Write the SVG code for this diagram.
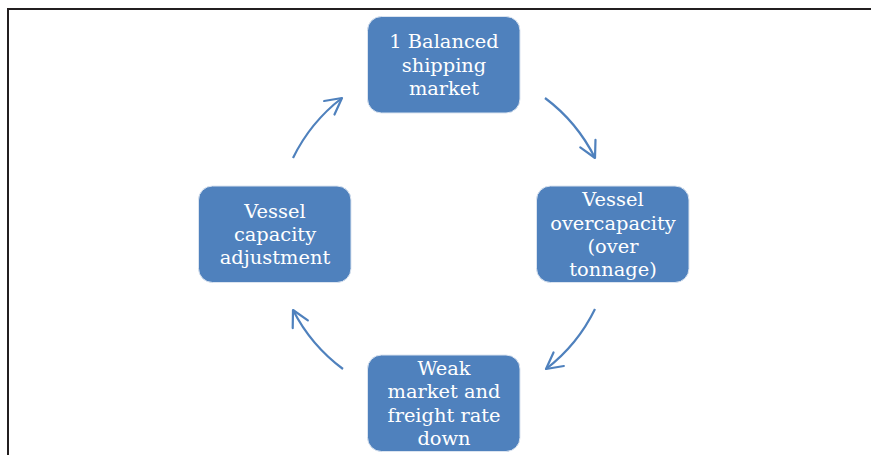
<svg xmlns="http://www.w3.org/2000/svg" width="871" height="455" viewBox="0 0 871 455">
<defs>
<style>
.box{fill:#4f81bd;stroke:#dbe4f0;stroke-width:1}
.t{font-family:"DejaVu Serif","Liberation Serif",serif;font-size:19.4px;fill:#fff;text-anchor:middle}
.arc{fill:none;stroke:#4f81bd;stroke-width:2.2;marker-end:url(#ah)}
.frame{fill:none;stroke:#231f20;stroke-width:2}
</style>
<marker id="ah" markerUnits="userSpaceOnUse" markerWidth="40" markerHeight="40" refX="0" refY="0" orient="auto" overflow="visible">
<path d="M -16 -8.5 L 0 0 L -16 8.5" fill="none" stroke="#4f81bd" stroke-width="2.2" stroke-linecap="round" stroke-linejoin="round"/>
</marker>
</defs>
<rect width="871" height="455" fill="#fff"/>
<path class="frame" d="M 8 455 L 8 9 L 871 9"/>
<g id="connectors">
<path class="arc" d="M 545 98 A 169 169 0 0 1 595 158"/>
<path class="arc" d="M 595 309 A 169 169 0 0 1 546 369"/>
<path class="arc" d="M 343 369 A 169 169 0 0 1 293 310"/>
<path class="arc" d="M 293 158 A 169 169 0 0 1 342 98"/>
</g>
<g id="n1">
<rect class="box" x="367.5" y="16.5" width="152.5" height="96.5" rx="14"/>
<text class="t"><tspan x="444" y="48">1 Balanced</tspan><tspan x="444" y="71.5">shipping</tspan><tspan x="444" y="95">market</tspan></text>
</g>
<g id="n2">
<rect class="box" x="536.5" y="186" width="152.5" height="96.5" rx="14"/>
<text class="t"><tspan x="613" y="206">Vessel</tspan><tspan x="613" y="229.5">overcapacity</tspan><tspan x="613" y="252.5">(over</tspan><tspan x="613" y="276">tonnage)</tspan></text>
</g>
<g id="n3">
<rect class="box" x="367.5" y="355" width="152.5" height="96.5" rx="14"/>
<text class="t"><tspan x="444" y="375">Weak</tspan><tspan x="444" y="398.3">market and</tspan><tspan x="444" y="421.7">freight rate</tspan><tspan x="444" y="445">down</tspan></text>
</g>
<g id="n4">
<rect class="box" x="198.5" y="186" width="152.5" height="96.5" rx="14"/>
<text class="t"><tspan x="275" y="217.7">Vessel</tspan><tspan x="275" y="241">capacity</tspan><tspan x="275" y="264.3">adjustment</tspan></text>
</g>
</svg>
